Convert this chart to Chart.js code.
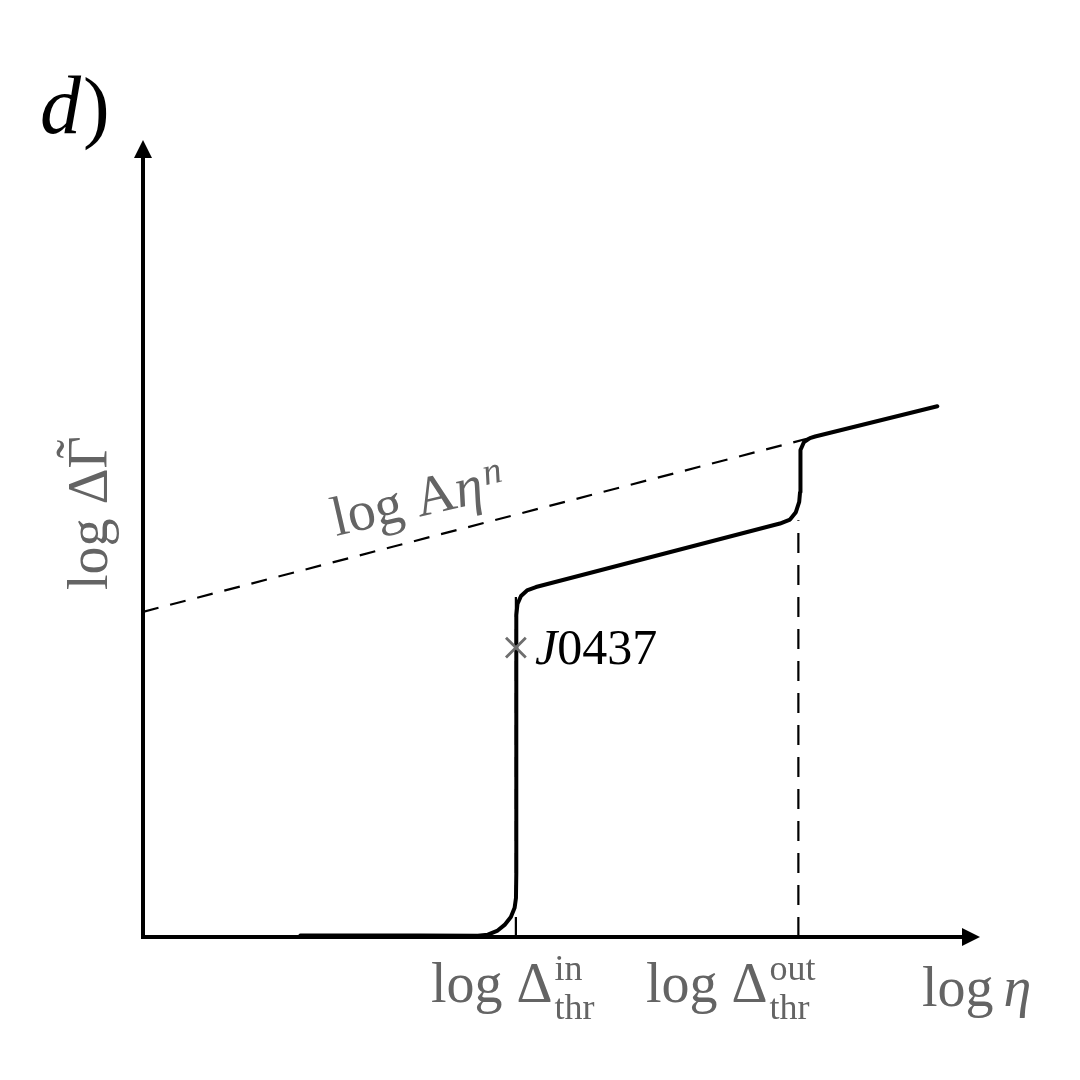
<!DOCTYPE html>
<html>
<head>
<meta charset="utf-8">
<script src="https://cdn.jsdelivr.net/npm/chart.js@4"></script>
<style>
  html, body { margin: 0; padding: 0; background: #fff; }
  #wrap { width: 1080px; height: 1080px; }
</style>
</head>
<body>
<div id="wrap"><canvas id="chart"></canvas></div>
<script>
// schematic units: x = log eta, y = log dGamma, both run 0..100 (arrow tips at 100)
const curveX = [18.8, 33.1, 40.0, 41.2, 42.3, 43.2, 43.95, 44.4, 44.56, 44.6,
                44.6, 44.74, 45.16, 45.88, 46.95,
                76.1, 77.3, 78.0, 78.4, 78.5,
                78.5, 78.6, 78.97, 79.68, 80.3, 94.9];
const curveY = [0.2, 0.2, 0.15, 0.29, 0.76, 1.52, 2.51, 3.66, 4.89, 8.0,
                40.4, 41.78, 42.78, 43.48, 43.91,
                51.88, 52.38, 53.3, 54.6, 55.8,
                59.6, 61.1, 62.1, 62.6, 62.8, 66.6];
const powerLawX = [0, 80.0];
const powerLawY = [40.8, 62.7];
const thresholdX = [44.55, 78.3];
const thresholdTop = [43.6, 52.3];
const pulsarX = [44.55];
const pulsarY = [36.3];

const GRAY = '#646464';
const SERIF = '"Liberation Serif", "DejaVu Serif", serif';

const toPoints = (xs, ys) => xs.map((v, i) => ({ x: v, y: ys[i] }));

const axesPlugin = {
    id: 'axesPlugin',
    beforeDatasetsDraw(chart) {
        const { ctx, scales: { x, y } } = chart;
        const x0 = x.getPixelForValue(0), y0 = y.getPixelForValue(0);
        const xEnd = x.getPixelForValue(100), yEnd = y.getPixelForValue(100);
        ctx.save();
        ctx.strokeStyle = '#000';
        ctx.fillStyle = '#000';
        ctx.lineWidth = 4;
        ctx.lineJoin = 'miter';
        ctx.beginPath();
        ctx.moveTo(x0, yEnd + 14);
        ctx.lineTo(x0, y0);
        ctx.lineTo(xEnd - 14, y0);
        ctx.stroke();
        // arrow heads
        ctx.beginPath();
        ctx.moveTo(xEnd, y0);
        ctx.lineTo(xEnd - 18, y0 - 9);
        ctx.lineTo(xEnd - 18, y0 + 9);
        ctx.closePath();
        ctx.fill();
        ctx.beginPath();
        ctx.moveTo(x0, yEnd);
        ctx.lineTo(x0 - 9, yEnd + 18);
        ctx.lineTo(x0 + 9, yEnd + 18);
        ctx.closePath();
        ctx.fill();
        ctx.restore();
    },
    afterDraw(chart) {
        const { ctx } = chart;
        ctx.save();
        ctx.textBaseline = 'alphabetic';
        ctx.textAlign = 'left';

        // panel tag
        ctx.fillStyle = '#000';
        ctx.font = 'italic 82px ' + SERIF;
        ctx.fillText('d', 40, 133);
        const dw = ctx.measureText('d').width;
        ctx.font = '80px ' + SERIF;
        ctx.fillText(')', 40 + dw + 2, 133);

        // J0437 label
        ctx.font = 'italic 50px ' + SERIF;
        ctx.fillText('J', 535, 664);
        const jw = ctx.measureText('J').width;
        ctx.font = '50px ' + SERIF;
        ctx.fillText('0437', 535 + jw, 664);

        ctx.fillStyle = GRAY;

        // threshold labels
        const thrLabel = (xs, sup) => {
            ctx.font = '56px ' + SERIF;
            ctx.fillText('log Δ', xs, 1002);
            const w = ctx.measureText('log Δ').width;
            ctx.font = '36px ' + SERIF;
            ctx.fillText(sup, xs + w + 2, 980);
            ctx.fillText('thr', xs + w + 2, 1019);
        };
        thrLabel(431, 'in');
        thrLabel(646, 'out');

        // x axis label
        ctx.font = '56px ' + SERIF;
        ctx.fillText('log ', 922, 1006);
        const lw = ctx.measureText('log ').width;
        ctx.font = 'italic 56px ' + SERIF;
        ctx.fillText('η', 922 + lw - 4, 1006);

        // y axis label (rotated)
        ctx.save();
        ctx.translate(107, 590);
        ctx.rotate(-Math.PI / 2);
        ctx.font = '56px ' + SERIF;
        ctx.fillText('log ΔΓ', 0, 0);
        const wBase = ctx.measureText('log Δ').width;
        const wG = ctx.measureText('Γ').width;
        ctx.textAlign = 'center';
        ctx.fillText('˜', wBase + wG / 2 + 3, -12);
        ctx.restore();

        // power-law label along dashed line
        ctx.save();
        ctx.translate(336, 536);
        ctx.rotate(-13 * Math.PI / 180);
        ctx.font = '56px ' + SERIF;
        ctx.fillText('log A', 0, 0);
        let w = ctx.measureText('log A').width;
        ctx.font = 'italic 56px ' + SERIF;
        ctx.fillText('η', w, 0);
        w += ctx.measureText('η').width;
        ctx.font = 'italic 38px ' + SERIF;
        ctx.fillText('n', w + 3, -16);
        ctx.restore();

        ctx.restore();
    }
};

const thresholdSets = thresholdX.map((tx, i) => ({
    data: toPoints([tx, tx], [0, thresholdTop[i]]),
    borderColor: '#000',
    borderWidth: 2.2,
    borderDash: [20, 12],
    pointRadius: 0,
    showLine: true,
    order: 3
}));

new Chart(document.getElementById('chart').getContext('2d'), {
    type: 'scatter',
    data: {
        datasets: [
            {
                data: toPoints(curveX, curveY),
                borderColor: '#000',
                borderWidth: 4,
                borderJoinStyle: 'round',
                borderCapStyle: 'round',
                pointRadius: 0,
                showLine: true,
                tension: 0,
                order: 1
            },
            {
                data: toPoints(powerLawX, powerLawY),
                borderColor: '#000',
                borderWidth: 2.2,
                borderDash: [16, 12],
                pointRadius: 0,
                showLine: true,
                order: 2
            },
            ...thresholdSets,
            {
                data: toPoints(pulsarX, pulsarY),
                pointStyle: 'crossRot',
                pointRadius: 14,
                borderColor: '#6e6e6e',
                borderWidth: 2.8,
                showLine: false,
                order: 0
            }
        ]
    },
    options: {
        responsive: true,
        maintainAspectRatio: false,
        animation: false,
        layout: { padding: { left: 143, right: 100, top: 140, bottom: 143 } },
        plugins: { legend: { display: false }, tooltip: { enabled: false } },
        scales: {
            x: { type: 'linear', min: 0, max: 100, display: false },
            y: { type: 'linear', min: 0, max: 100, display: false }
        },
        elements: { line: { fill: false } }
    },
    plugins: [axesPlugin]
});
</script>
</body>
</html>
